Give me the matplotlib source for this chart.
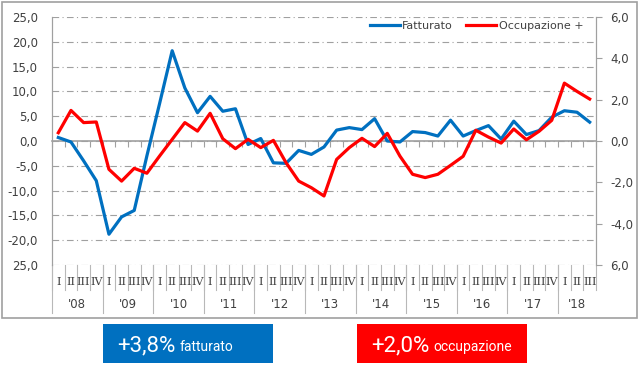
import matplotlib.pyplot as plt
import matplotlib.transforms as mtransforms
from matplotlib.patches import Rectangle
import numpy as np

# dati trimestrali 2008 Q1 - 2018 Q3
anni = ["'08", "'09", "'10", "'11", "'12", "'13", "'14", "'15", "'16", "'17", "'18"]
trimestri = ['I', 'II', 'III', 'IV']
n_trim_ultimo = 3

fatturato = [0.7, -0.2, -4.0, -8.0, -18.8, -15.3, -14.0, -3.0,
             7.5, 18.2, 10.7, 5.7, 9.0, 6.0, 6.5, -0.7,
             0.5, -4.4, -4.5, -1.9, -2.7, -1.2, 2.2, 2.7,
             2.3, 4.5, 0.0, -0.2, 1.9, 1.7, 1.0, 4.2,
             1.0, 2.1, 3.1, 0.4, 4.0, 1.3, 2.1, 4.8,
             6.1, 5.8, 3.8]
occupazione = [0.4, 1.48, 0.89, 0.92, -1.37, -1.94, -1.32, -1.56,
               -0.73, 0.08, 0.89, 0.48, 1.34, 0.11, -0.37, 0.08,
               -0.32, 0.03, -1.05, -1.94, -2.26, -2.66, -0.89, -0.32,
               0.13, -0.27, 0.37, -0.73, -1.61, -1.77, -1.61, -1.18,
               -0.74, 0.52, 0.19, -0.1, 0.58, 0.06, 0.47, 1.0,
               2.8, 2.4, 2.03]

yticks_sx = np.arange(-25, 26, 5)
ylab_sx = ['25,0', '-20,0', '-15,0', '-10,0', '-5,0', '0,0', '5,0', '10,0', '15,0', '20,0', '25,0']
yticks_dx = [-6, -4, -2, 0, 2, 4, 6]
ylab_dx = ['6,0', '-4,0', '-2,0', '0,0', '2,0', '4,0', '6,0']

riquadri = [('+3,8%', 'fatturato'), ('+2,0%', 'occupazione')]

blu = '#0070C0'
rosso = '#FF0000'
grigio = '#A0A0A0'
testo = '#404040'
stretto = ['Liberation Sans Narrow', 'Roboto', 'DejaVu Sans']

fig = plt.figure(figsize=(6.4, 3.7), dpi=100)
ax = fig.add_axes([52/640, 1-265/370, 544/640, 248/370])
ax2 = ax.twinx()

x = np.arange(len(fatturato))
ax.plot(x, fatturato, color=blu, linewidth=2.3, label='Fatturato', zorder=3)
ax2.plot(x, occupazione, color=rosso, linewidth=2.3, label='Occupazione +', zorder=4)

ax.set_xlim(-0.5, len(x)-0.5)
ax.set_ylim(-25, 25)
ax2.set_ylim(-6, 6)

ax.set_yticks(yticks_sx)
ax.set_yticklabels(ylab_sx)
ax2.set_yticks(yticks_dx)
ax2.set_yticklabels(ylab_dx)
ax.tick_params(axis='y', length=0, labelsize=8.5, labelcolor=testo, pad=10)
ax2.tick_params(axis='y', length=4, color=grigio, labelsize=8.5, labelcolor=testo, pad=6)

# griglia tratto-punto
ax.yaxis.grid(True, linestyle=(0, (6, 3, 1, 3)), color=grigio, linewidth=0.8)
ax.set_axisbelow(True)

# asse x sullo zero con tacche tra i trimestri
for a in (ax, ax2):
    a.spines['top'].set_color('none')
    a.spines['left'].set_color(grigio)
    a.spines['right'].set_color(grigio)
ax2.spines['bottom'].set_color('none')
ax.spines['bottom'].set_position(('data', 0))
ax.spines['bottom'].set_color(grigio)
ax.spines['bottom'].set_linewidth(1.2)
ax.set_xticks(np.arange(-0.5, len(x), 1))
ax.set_xticklabels([])
ax.tick_params(axis='x', length=4, color=grigio, direction='out')

# etichette categorie su due livelli
trans = mtransforms.blended_transform_factory(ax.transData, ax.transAxes)
px = 1/248
sep = '#B8B8B8'
i = 0
for k, anno in enumerate(anni):
    nq = 4 if k < len(anni)-1 else n_trim_ultimo
    for q in range(nq):
        ax.text(i+q, -17*px, trimestri[q], transform=trans, ha='center', va='center',
                fontsize=8, family='DejaVu Serif', color=testo)
        ax.plot([i+q-0.5, i+q-0.5], [0, -25*px], transform=trans, color=sep,
                linewidth=0.8, clip_on=False)
    ax.text(i+(nq-1)/2, -39*px, anno, transform=trans, ha='center', va='center',
            fontsize=8.5, color=testo)
    ax.plot([i-0.5, i-0.5], [0, -48*px], transform=trans, color=sep,
            linewidth=0.8, clip_on=False)
    i += nq
ax.plot([i-0.5, i-0.5], [0, -25*px], transform=trans, color=sep,
        linewidth=0.8, clip_on=False)

# legenda
h1, l1 = ax.get_legend_handles_labels()
h2, l2 = ax2.get_legend_handles_labels()
leg = ax2.legend(h1+h2, l1+l2, loc='upper right', bbox_to_anchor=(0.995, 1.025), ncol=2,
                 frameon=False, fontsize=8, handlelength=2.7, columnspacing=1.2,
                 handletextpad=0.2)
for t in leg.get_texts():
    t.set_color(testo)

# cornice esterna
fig.patches.append(Rectangle((2/640, 1-318/370), 635/640, 316/370, transform=fig.transFigure,
                             fill=False, edgecolor=grigio, linewidth=1.2))

# riquadri riassuntivi
r = fig.canvas.get_renderer()
for (grande, piccolo), col, x0 in zip(riquadri, [blu, rosso], [103, 357]):
    fig.patches.append(Rectangle((x0/640, 1-363/370), 170/640, 39/370,
                                 transform=fig.transFigure, facecolor=col, edgecolor='none'))
    t = fig.text((x0+14)/640, 1-351/370, grande, color='white', fontsize=16,
                 family=stretto, ha='left', va='baseline')
    bb = t.get_window_extent(renderer=r)
    fig.text((bb.x1+4)/640, 1-351/370, piccolo, color='white', fontsize=10,
             family=stretto, ha='left', va='baseline')

fig.savefig('out.png', dpi=100)
